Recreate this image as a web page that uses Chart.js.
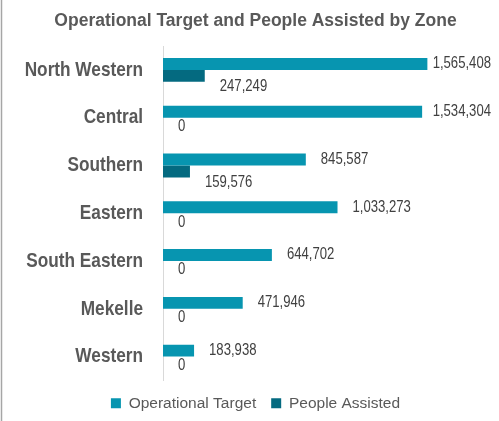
<!DOCTYPE html>
<html>
<head>
<meta charset="utf-8">
<script src="https://cdn.jsdelivr.net/npm/chart.js@4.4.0/dist/chart.umd.min.js"></script>
<style>
  html, body { margin: 0; padding: 0; background: #fff; }
  #wrap { width: 499px; height: 421px; }
</style>
</head>
<body>
<div id="wrap"><canvas id="zones"></canvas></div>
<script>
// Data
const zones = ["North Western", "Central", "Southern", "Eastern", "South Eastern", "Mekelle", "Western"];
const operationalTarget = [1565408, 1534304, 845587, 1033273, 644702, 471946, 183938];
const peopleAssisted = [247249, 0, 159576, 0, 0, 0, 0];

const SANS = "'Liberation Sans', Arial, sans-serif";
const NARROW_SCALE = 0.82; // no hay Arial Narrow instalada, se comprime el texto

// texto comprimido horizontalmente
function narrowText(ctx, txt, x, y, align) {
  ctx.save();
  ctx.translate(x, y);
  ctx.scale(NARROW_SCALE, 1);
  ctx.textAlign = align;
  ctx.fillText(txt, 0, 0);
  ctx.restore();
}

// Etiquetas de las zonas (eje Y)
const zoneLabels = {
  id: "zoneLabels",
  afterDraw(chart) {
    const ctx = chart.ctx;
    const yScale = chart.scales.y;
    ctx.save();
    ctx.font = "bold 21px " + SANS;
    ctx.fillStyle = "#595959";
    ctx.textBaseline = "middle";
    zones.forEach((z, i) => {
      narrowText(ctx, z, chart.chartArea.left - 20, yScale.getPixelForTick(i), "right");
    });
    ctx.restore();
  },
};

// Etiquetas de valores al final de cada barra
const valueLabels = {
  id: "valueLabels",
  afterDatasetsDraw(chart) {
    const ctx = chart.ctx;
    ctx.save();
    ctx.font = "16px " + SANS;
    ctx.fillStyle = "#404040";
    ctx.textBaseline = "middle";
    chart.data.datasets.forEach((ds, i) => {
      const meta = chart.getDatasetMeta(i);
      meta.data.forEach((bar, j) => {
        const value = ds.data[j];
        const txt = value.toLocaleString("en-US");
        const w = ctx.measureText(txt).width * NARROW_SCALE;
        let x = bar.x + 15;
        if (x + w > chart.width - 8) x = chart.width - 8 - w; // que no se salga del marco
        // la segunda serie lleva la etiqueta debajo de la barra
        let y = bar.y;
        if (i === 1) y += value ? 11 : 3;
        narrowText(ctx, txt, x, y, "left");
      });
    });
    ctx.restore();
  },
};

// Linea gris del marco a la izquierda
const frameLine = {
  id: "frameLine",
  beforeDraw(chart) {
    const ctx = chart.ctx;
    ctx.save();
    ctx.strokeStyle = "#a6a6a6";
    ctx.lineWidth = 1.5;
    ctx.beginPath();
    ctx.moveTo(1.5, 0);
    ctx.lineTo(1.5, chart.height);
    ctx.stroke();
    ctx.restore();
  },
};

const chartZones = new Chart(document.getElementById("zones").getContext("2d"), {
  type: "bar",
  data: {
    labels: zones,
    datasets: [
      {
        label: "Operational Target",
        data: operationalTarget,
        backgroundColor: "#0795B0",
        categoryPercentage: 0.5,
        barPercentage: 1,
      },
      {
        label: "People Assisted",
        data: peopleAssisted,
        backgroundColor: "#046A80",
        categoryPercentage: 0.5,
        barPercentage: 1,
      },
    ],
  },
  options: {
    indexAxis: "y",
    responsive: true,
    maintainAspectRatio: false,
    animation: false,
    layout: { padding: { left: 44, right: 32, top: 0, bottom: 0 } },
    scales: {
      x: {
        display: false,
        min: 0,
        max: 1800000,
      },
      y: {
        grid: { display: false, drawTicks: false },
        border: { display: true, color: "#d9d9d9", width: 1 },
        ticks: { display: false },
        afterFit: (scale) => {
          scale.width = 119;
        },
      },
    },
    plugins: {
      title: {
        display: true,
        text: "Operational Target and People Assisted by Zone",
        color: "#595959",
        font: { family: SANS, size: 17.5, weight: "bold", lineHeight: 1.2 },
        padding: { top: 10.5, bottom: 14.5 },
      },
      legend: {
        position: "bottom",
        labels: {
          boxWidth: 10,
          boxHeight: 10,
          padding: 15,
          color: "#595959",
          font: { family: SANS, size: 15.5 },
        },
      },
      tooltip: { enabled: false },
    },
  },
  plugins: [valueLabels, zoneLabels, frameLine],
});
</script>
</body>
</html>
